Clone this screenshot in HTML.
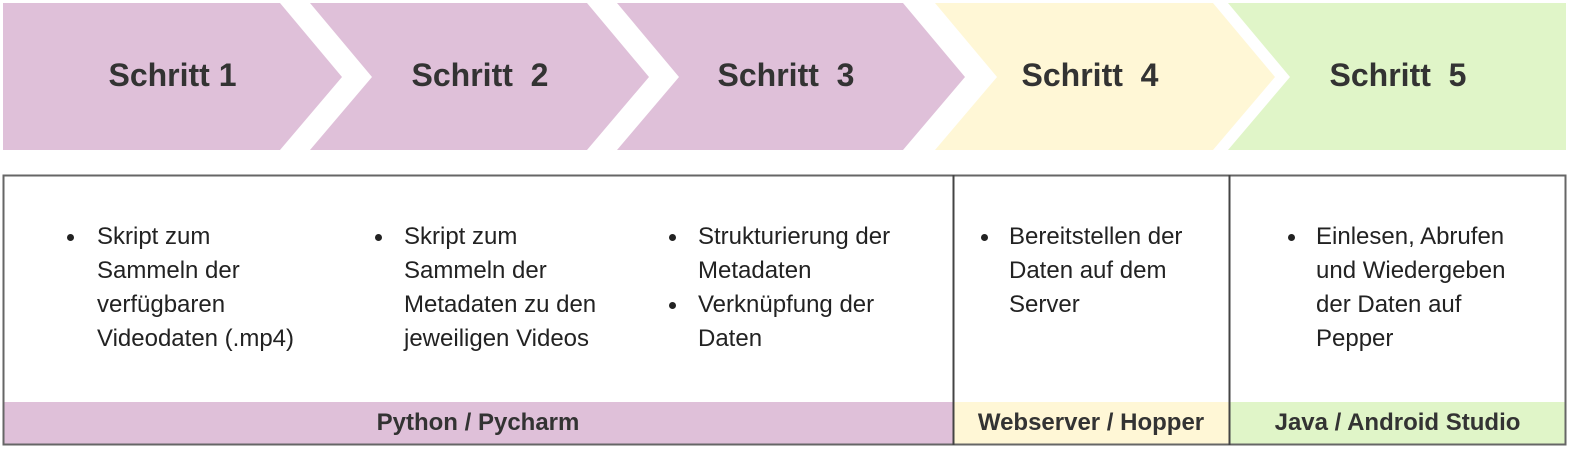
<!DOCTYPE html>
<html><head><meta charset="utf-8"><style>
body{margin:0;width:1588px;height:453px;background:#fff;position:relative;font-family:"Liberation Sans",Arial,sans-serif;color:#333;overflow:hidden}
.t{position:absolute;font-size:24px;line-height:34px;color:#222}
.b{position:absolute;width:7px;height:7px;border-radius:50%;background:#222}
.h{position:absolute;font-weight:bold;font-size:32px;top:57px;text-align:center;color:#333}
.f{position:absolute;font-weight:bold;font-size:24px;top:402px;height:42px;line-height:42px;text-align:center;color:#333}
</style></head><body>
<svg width="1588" height="453" style="position:absolute;left:0;top:0">
<polygon points="3,3 280,3 342,77 280,150 3,150" fill="#dfc0d9"/>
<polygon points="310,3 587,3 649,77 587,150 310,150 372,77" fill="#dfc0d9"/>
<polygon points="617,3 903,3 965,77 903,150 617,150 679,77" fill="#dfc0d9"/>
<polygon points="935,3 1213,3 1275,77 1213,150 935,150 997,77" fill="#fff7d6"/>
<polygon points="1228,3 1566,3 1566,150 1228,150 1290,77" fill="#e0f5c8"/>
<rect x="3" y="402" width="950" height="42" fill="#dfc0d9"/>
<rect x="953" y="402" width="276" height="42" fill="#fff7d6"/>
<rect x="1229" y="402" width="337" height="42" fill="#e0f5c8"/>
<rect x="3.5" y="175.5" width="1562" height="269" fill="none" stroke="#666" stroke-width="2"/>
<line x1="953.5" y1="175" x2="953.5" y2="445" stroke="#444" stroke-width="2"/>
<line x1="1229.5" y1="175" x2="1229.5" y2="445" stroke="#444" stroke-width="2"/>
</svg>
<div class="h" style="left:3px;width:339px">Schritt 1</div>
<div class="h" style="left:330px;width:300px">Schritt&nbsp; 2</div>
<div class="h" style="left:636px;width:300px">Schritt&nbsp; 3</div>
<div class="h" style="left:940px;width:300px">Schritt&nbsp; 4</div>
<div class="h" style="left:1248px;width:300px">Schritt&nbsp; 5</div>

<div class="b" style="left:67px;top:234px"></div>
<div class="t" style="left:97px;top:220px">Skript zum<br>Sammeln der<br>verfügbaren<br>Videodaten (.mp4)</div>
<div class="b" style="left:375px;top:234px"></div>
<div class="t" style="left:404px;top:220px">Skript zum<br>Sammeln der<br>Metadaten zu den<br>jeweiligen Videos</div>
<div class="b" style="left:669px;top:234px"></div>
<div class="b" style="left:669px;top:302px"></div>
<div class="t" style="left:698px;top:220px">Strukturierung der<br>Metadaten<br>Verknüpfung der<br>Daten</div>
<div class="b" style="left:981px;top:234px"></div>
<div class="t" style="left:1009px;top:220px">Bereitstellen der<br>Daten auf dem<br>Server</div>
<div class="b" style="left:1288px;top:234px"></div>
<div class="t" style="left:1316px;top:220px">Einlesen, Abrufen<br>und Wiedergeben<br>der Daten auf<br>Pepper</div>

<div class="f" style="left:3px;width:950px">Python / Pycharm</div>
<div class="f" style="left:953px;width:276px">Webserver / Hopper</div>
<div class="f" style="left:1229px;width:337px">Java / Android Studio</div>
</body></html>
